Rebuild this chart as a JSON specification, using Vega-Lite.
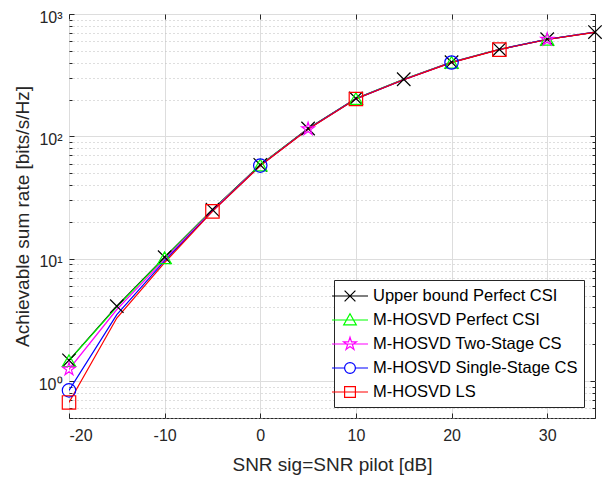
{
  "$schema": "https://vega.github.io/schema/vega-lite/v6.json",
  "width": 526,
  "height": 404,
  "autosize": {"type": "none"},
  "padding": {"left": 69, "top": 14, "right": 16, "bottom": 59},
  "background": "white",
  "config": {
    "font": "Liberation Sans",
    "view": {"stroke": "#262626", "strokeWidth": 1},
    "axis": {
      "domain": false,
      "labelFont": "Liberation Sans",
      "labelFontSize": 16,
      "labelColor": "#262626",
      "titleFont": "Liberation Sans",
      "titleFontSize": 19,
      "titleFontWeight": "normal",
      "titleColor": "#262626",
      "tickColor": "#262626",
      "tickWidth": 1,
      "gridColor": "#dddddd",
      "gridWidth": 1
    }
  },
  "data": {
    "values": [
      {"series": "Upper bound Perfect CSI", "snr": -20, "rate": 1.48, "marker": true},
      {"series": "Upper bound Perfect CSI", "snr": -15, "rate": 4.1, "marker": true},
      {"series": "Upper bound Perfect CSI", "snr": -10, "rate": 10.3, "marker": true},
      {"series": "Upper bound Perfect CSI", "snr": -5, "rate": 25.2, "marker": true},
      {"series": "Upper bound Perfect CSI", "snr": 0, "rate": 58.5, "marker": true},
      {"series": "Upper bound Perfect CSI", "snr": 5, "rate": 116, "marker": true},
      {"series": "Upper bound Perfect CSI", "snr": 10, "rate": 204, "marker": true},
      {"series": "Upper bound Perfect CSI", "snr": 15, "rate": 293, "marker": true},
      {"series": "Upper bound Perfect CSI", "snr": 20, "rate": 404, "marker": true},
      {"series": "Upper bound Perfect CSI", "snr": 25, "rate": 515, "marker": true},
      {"series": "Upper bound Perfect CSI", "snr": 30, "rate": 622, "marker": true},
      {"series": "Upper bound Perfect CSI", "snr": 35, "rate": 712, "marker": true},

      {"series": "M-HOSVD Perfect CSI", "snr": -20, "rate": 1.47, "marker": true},
      {"series": "M-HOSVD Perfect CSI", "snr": -15, "rate": 4.05, "marker": false},
      {"series": "M-HOSVD Perfect CSI", "snr": -10, "rate": 10.2, "marker": true},
      {"series": "M-HOSVD Perfect CSI", "snr": -5, "rate": 25.1, "marker": false},
      {"series": "M-HOSVD Perfect CSI", "snr": 0, "rate": 58.3, "marker": true},
      {"series": "M-HOSVD Perfect CSI", "snr": 5, "rate": 115.5, "marker": false},
      {"series": "M-HOSVD Perfect CSI", "snr": 10, "rate": 203.5, "marker": true},
      {"series": "M-HOSVD Perfect CSI", "snr": 15, "rate": 292, "marker": false},
      {"series": "M-HOSVD Perfect CSI", "snr": 20, "rate": 403, "marker": true},
      {"series": "M-HOSVD Perfect CSI", "snr": 25, "rate": 514, "marker": false},
      {"series": "M-HOSVD Perfect CSI", "snr": 30, "rate": 621, "marker": true},
      {"series": "M-HOSVD Perfect CSI", "snr": 35, "rate": 711, "marker": false},

      {"series": "M-HOSVD Two-Stage CS", "snr": -20, "rate": 1.25, "marker": true},
      {"series": "M-HOSVD Two-Stage CS", "snr": -15, "rate": 3.85, "marker": false},
      {"series": "M-HOSVD Two-Stage CS", "snr": -10, "rate": 9.9, "marker": false},
      {"series": "M-HOSVD Two-Stage CS", "snr": -5, "rate": 24.8, "marker": false},
      {"series": "M-HOSVD Two-Stage CS", "snr": 0, "rate": 58, "marker": false},
      {"series": "M-HOSVD Two-Stage CS", "snr": 5, "rate": 115, "marker": true},
      {"series": "M-HOSVD Two-Stage CS", "snr": 10, "rate": 203, "marker": false},
      {"series": "M-HOSVD Two-Stage CS", "snr": 15, "rate": 291, "marker": false},
      {"series": "M-HOSVD Two-Stage CS", "snr": 20, "rate": 402, "marker": false},
      {"series": "M-HOSVD Two-Stage CS", "snr": 25, "rate": 513, "marker": false},
      {"series": "M-HOSVD Two-Stage CS", "snr": 30, "rate": 620, "marker": true},
      {"series": "M-HOSVD Two-Stage CS", "snr": 35, "rate": 710, "marker": false},

      {"series": "M-HOSVD Single-Stage CS", "snr": -20, "rate": 0.84, "marker": true},
      {"series": "M-HOSVD Single-Stage CS", "snr": -15, "rate": 3.5, "marker": false},
      {"series": "M-HOSVD Single-Stage CS", "snr": -10, "rate": 9.6, "marker": false},
      {"series": "M-HOSVD Single-Stage CS", "snr": -5, "rate": 24.5, "marker": false},
      {"series": "M-HOSVD Single-Stage CS", "snr": 0, "rate": 57.7, "marker": true},
      {"series": "M-HOSVD Single-Stage CS", "snr": 5, "rate": 114.8, "marker": false},
      {"series": "M-HOSVD Single-Stage CS", "snr": 10, "rate": 202.5, "marker": false},
      {"series": "M-HOSVD Single-Stage CS", "snr": 15, "rate": 290.5, "marker": false},
      {"series": "M-HOSVD Single-Stage CS", "snr": 20, "rate": 401.5, "marker": true},
      {"series": "M-HOSVD Single-Stage CS", "snr": 25, "rate": 512.5, "marker": false},
      {"series": "M-HOSVD Single-Stage CS", "snr": 30, "rate": 619.5, "marker": false},
      {"series": "M-HOSVD Single-Stage CS", "snr": 35, "rate": 709.5, "marker": false},

      {"series": "M-HOSVD LS", "snr": -20, "rate": 0.67, "marker": true},
      {"series": "M-HOSVD LS", "snr": -15, "rate": 3.28, "marker": false},
      {"series": "M-HOSVD LS", "snr": -10, "rate": 9.3, "marker": false},
      {"series": "M-HOSVD LS", "snr": -5, "rate": 24.4, "marker": true},
      {"series": "M-HOSVD LS", "snr": 0, "rate": 57.5, "marker": false},
      {"series": "M-HOSVD LS", "snr": 5, "rate": 114.5, "marker": false},
      {"series": "M-HOSVD LS", "snr": 10, "rate": 202, "marker": true},
      {"series": "M-HOSVD LS", "snr": 15, "rate": 290, "marker": false},
      {"series": "M-HOSVD LS", "snr": 20, "rate": 401, "marker": false},
      {"series": "M-HOSVD LS", "snr": 25, "rate": 512, "marker": true},
      {"series": "M-HOSVD LS", "snr": 30, "rate": 619, "marker": false},
      {"series": "M-HOSVD LS", "snr": 35, "rate": 709, "marker": false}
    ]
  },
  "layer": [
    {
      "mark": {"type": "line", "strokeWidth": 1.2, "clip": true},
      "encoding": {
        "x": {
          "field": "snr", "type": "quantitative",
          "scale": {"domain": [-20, 35], "nice": false, "zero": false},
          "axis": {
            "orient": "bottom",
            "values": [-20, -10, 0, 10, 20, 30],
            "labelExpr": "replace(datum.label, '−', '-')",
            "title": "SNR sig=SNR pilot [dB]",
            "tickSize": -5,
            "labelPadding": 14,
            "titlePadding": 12,
            "grid": true
          }
        },
        "y": {
          "field": "rate", "type": "quantitative",
          "scale": {"type": "log", "domain": [0.5, 1000], "nice": false},
          "axis": {
            "orient": "left",
            "title": "Achievable sum rate [bits/s/Hz]",
            "values": [0.5, 0.6, 0.7, 0.8, 0.9, 1, 2, 3, 4, 5, 6, 7, 8, 9, 10, 20, 30, 40, 50, 60, 70, 80, 90, 100, 200, 300, 400, 500, 600, 700, 800, 900, 1000],
            "labelExpr": "datum.value == 1 ? '10⁰' : datum.value == 10 ? '10¹' : datum.value == 100 ? '10²' : datum.value == 1000 ? '10³' : ''",
            "tickSize": {"condition": {"test": "datum.value == 1 || datum.value == 10 || datum.value == 100 || datum.value == 1000", "value": -5}, "value": -3},
            "labelPadding": 12,
            "labelOffset": 3,
            "titlePadding": 6,
            "grid": true,
            "gridDash": {"condition": {"test": "datum.value == 1 || datum.value == 10 || datum.value == 100 || datum.value == 1000", "value": []}, "value": [1, 3]},
            "gridColor": {"condition": {"test": "datum.value == 1 || datum.value == 10 || datum.value == 100 || datum.value == 1000", "value": "#dddddd"}, "value": "#bdbdbd"}
          }
        },
        "color": {
          "field": "series", "type": "nominal",
          "scale": {
            "domain": ["Upper bound Perfect CSI", "M-HOSVD Perfect CSI", "M-HOSVD Two-Stage CS", "M-HOSVD Single-Stage CS", "M-HOSVD LS"],
            "range": ["#000000", "#00ff00", "#ff00ff", "#0000ff", "#ff0000"]
          },
          "legend": {
            "title": null,
            "orient": "bottom-right",
            "offset": 11,
            "fillColor": "white",
            "strokeColor": "#262626",
            "padding": 6,
            "labelFont": "Liberation Sans",
            "labelFontSize": 16.5,
            "labelColor": "#000000",
            "labelLimit": 400,
            "labelOffset": 13,
            "symbolSize": 324,
            "symbolStrokeWidth": 1.2,
            "symbolType": "M-2,0H2",
            "rowPadding": 5,
            "encode": {
              "symbols": {
                "update": {
                  "fill": {"value": "transparent"},
                  "shape": {"signal": "datum.value === 'Upper bound Perfect CSI' ? 'M-2,0H2M-0.6,-0.6L0.6,0.6M-0.6,0.6L0.6,-0.6' : datum.value === 'M-HOSVD Perfect CSI' ? 'M-2,0H2M0,-0.7L0.7,0.55L-0.7,0.55Z' : datum.value === 'M-HOSVD Two-Stage CS' ? 'M-2,0H2M0,-0.75L0.169,-0.232L0.713,-0.232L0.272,0.089L0.441,0.607L0,0.287L-0.441,0.607L-0.272,0.089L-0.713,-0.232L-0.169,-0.232Z' : datum.value === 'M-HOSVD Single-Stage CS' ? 'M-2,0H-0.6M0.6,0H2M0.6,0A0.6,0.6 0 1,1 -0.6,0A0.6,0.6 0 1,1 0.6,0' : 'M-2,0H2M-0.6,-0.6H0.6V0.6H-0.6Z'"}
                }
              }
            }
          }
        }
      }
    },
    {
      "transform": [{"filter": "datum.marker"}],
      "mark": {"type": "point", "filled": false, "strokeWidth": 1.2, "size": 180, "opacity": 1},
      "encoding": {
        "x": {"field": "snr", "type": "quantitative", "axis": null},
        "y": {"field": "rate", "type": "quantitative", "axis": null},
        "color": {"field": "series", "type": "nominal", "legend": null},
        "shape": {
          "field": "series", "type": "nominal",
          "scale": {
            "domain": ["Upper bound Perfect CSI", "M-HOSVD Perfect CSI", "M-HOSVD Two-Stage CS", "M-HOSVD Single-Stage CS", "M-HOSVD LS"],
            "range": ["M-1,-1L1,1M-1,1L1,-1", "triangle-up", "M0,-1L0.225,-0.309L0.951,-0.309L0.363,0.118L0.588,0.809L0,0.382L-0.588,0.809L-0.363,0.118L-0.951,-0.309L-0.225,-0.309Z", "circle", "square"]
          },
          "legend": null
        }
      }
    },
    {
      "mark": {"type": "point", "opacity": 0},
      "encoding": {
        "x": {
          "field": "snr", "type": "quantitative",
          "axis": {"orient": "top", "values": [-20, -10, 0, 10, 20, 30], "labels": false, "title": null, "grid": false, "tickSize": -5}
        },
        "y": {
          "field": "rate", "type": "quantitative",
          "axis": {
            "orient": "right",
            "values": [0.5, 0.6, 0.7, 0.8, 0.9, 1, 2, 3, 4, 5, 6, 7, 8, 9, 10, 20, 30, 40, 50, 60, 70, 80, 90, 100, 200, 300, 400, 500, 600, 700, 800, 900, 1000],
            "labels": false, "title": null, "grid": false,
            "tickSize": {"condition": {"test": "datum.value == 1 || datum.value == 10 || datum.value == 100 || datum.value == 1000", "value": -5}, "value": -3}
          }
        }
      }
    }
  ],
  "resolve": {
    "axis": {"x": "independent", "y": "independent"},
    "legend": {"color": "independent", "shape": "independent"}
  }
}
